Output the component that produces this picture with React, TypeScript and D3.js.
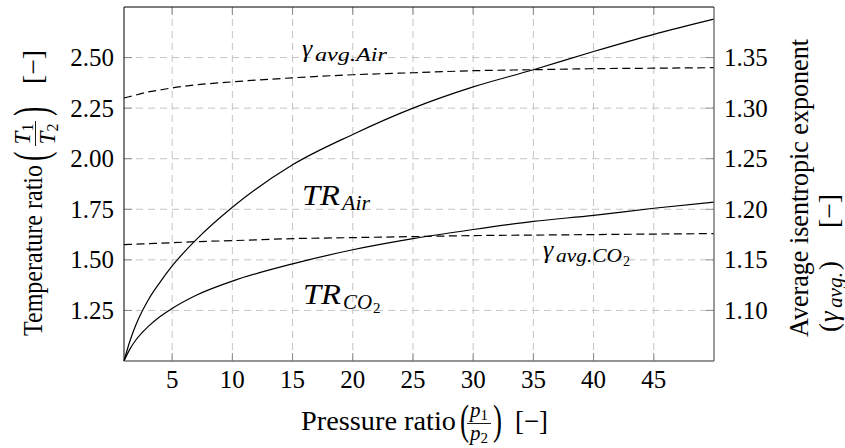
import React from "react";
import * as d3 from "d3";

// ---- data ----
const pressureRatio = [1, 1.5, 2, 3, 4, 5, 7, 10, 15, 20, 25, 30, 35, 40, 45, 50];
const trAir = [1.0, 1.1, 1.18, 1.3, 1.39, 1.47, 1.6, 1.76, 1.97, 2.12, 2.25, 2.355, 2.44, 2.53, 2.615, 2.69];
const trCO2 = [1.0, 1.06, 1.105, 1.17, 1.22, 1.26, 1.325, 1.395, 1.48, 1.55, 1.605, 1.65, 1.69, 1.72, 1.755, 1.785];
const gammaAir = [1.31, 1.3115, 1.313, 1.316, 1.318, 1.32, 1.323, 1.326, 1.33, 1.333, 1.335, 1.337, 1.338, 1.339, 1.3395, 1.34];
const gammaCO2 = [1.165, 1.1653, 1.1656, 1.166, 1.1665, 1.167, 1.168, 1.169, 1.171, 1.172, 1.173, 1.174, 1.1745, 1.175, 1.1755, 1.176];

const xTicks = [5, 10, 15, 20, 25, 30, 35, 40, 45];
const yLeftTicks = [1.25, 1.5, 1.75, 2.0, 2.25, 2.5];
const yRightTicks = [1.1, 1.15, 1.2, 1.25, 1.3, 1.35];

const xDomain = [1, 50];
const yLeftDomain = [1, 2.75];
const yRightDomain = [1.05, 1.4];

const W = 845;
const H = 448;
const L = 124, R = 714, T = 7, B = 361;
const FONT = '"Liberation Serif"';

export default function App() {
  const x = d3.scaleLinear().domain(xDomain).range([L, R]);
  const yL = d3.scaleLinear().domain(yLeftDomain).range([B, T]);
  const yR = d3.scaleLinear().domain(yRightDomain).range([B, T]);
  const fmt = d3.format(".2f");

  const lineL = (vals: number[]) =>
    d3
      .line<number>()
      .x((_, i) => x(pressureRatio[i]))
      .y((d) => yL(d))
      .curve(d3.curveMonotoneX)(vals) || "";
  const lineR = (vals: number[]) =>
    d3
      .line<number>()
      .x((_, i) => x(pressureRatio[i]))
      .y((d) => yR(d))
      .curve(d3.curveMonotoneX)(vals) || "";

  const gridColor = "#c4c4c4";
  const tickColor = "#8a8a8a";
  const tickLen = 8;
  const fs: React.CSSProperties = { fontFamily: FONT };
  const fsi: React.CSSProperties = { fontFamily: FONT, fontStyle: "italic" };

  const paren = (ch: string, px: number, py: number, size = 27, sy = 1.6) => (
    <text transform={`translate(${px},${py}) scale(1,${sy})`} fontSize={size} style={fs}>
      {ch}
    </text>
  );

  return (
    <div style={{ position: "absolute", left: 0, top: 0 }}>
      <svg width={W} height={H} viewBox={`0 0 ${W} ${H}`} style={{ display: "block", background: "#fff", fontFamily: FONT }}>
        {/* grid */}
        <g stroke={gridColor} strokeWidth={1} strokeDasharray="7,5" fill="none">
          {xTicks.map((t) => (
            <line key={"gx" + t} x1={x(t)} x2={x(t)} y1={T} y2={B} />
          ))}
          {yLeftTicks.map((t) => (
            <line key={"gy" + t} x1={L} x2={R} y1={yL(t)} y2={yL(t)} />
          ))}
        </g>
        {/* ticks */}
        <g stroke={tickColor} strokeWidth={1}>
          {xTicks.map((t) => (
            <g key={"tx" + t}>
              <line x1={x(t)} x2={x(t)} y1={B} y2={B - tickLen} />
              <line x1={x(t)} x2={x(t)} y1={T} y2={T + tickLen} />
            </g>
          ))}
          {yLeftTicks.map((t) => (
            <line key={"tl" + t} x1={L} x2={L + tickLen} y1={yL(t)} y2={yL(t)} />
          ))}
          {yRightTicks.map((t) => (
            <line key={"tr" + t} x1={R} x2={R - tickLen} y1={yR(t)} y2={yR(t)} />
          ))}
        </g>
        {/* curves */}
        <g fill="none" stroke="#000" strokeWidth={1.2}>
          <path d={lineL(trAir)} />
          <path d={lineL(trCO2)} />
          <path d={lineR(gammaAir)} strokeDasharray="8,4.5" />
          <path d={lineR(gammaCO2)} strokeDasharray="8,4.5" />
        </g>
        {/* frame */}
        <line x1={L} x2={R} y1={B} y2={B} stroke="#707070" strokeWidth={1.4} />
        <line x1={R} x2={R} y1={T} y2={B} stroke="#707070" strokeWidth={1.4} />
        <line x1={L} x2={R} y1={T} y2={T} stroke="#000" strokeWidth={1} />
        <line x1={L} x2={L} y1={T} y2={B} stroke="#000" strokeWidth={1} />

        {/* tick labels */}
        <g fontSize={25} fill="#000">
          {xTicks.map((t) => (
            <text key={"lx" + t} x={x(t)} y={388} textAnchor="middle" style={fs}>
              {t}
            </text>
          ))}
          {yLeftTicks.map((t) => (
            <text key={"ll" + t} x={114} y={yL(t) + 8.5} textAnchor="end" style={fs}>
              {fmt(t)}
            </text>
          ))}
          {yRightTicks.map((t) => (
            <text key={"lr" + t} x={724} y={yR(t) + 8.5} textAnchor="start" style={fs}>
              {fmt(t)}
            </text>
          ))}
        </g>

        {/* curve labels */}
        <g fill="#000">
          <text x={302} y={57} fontSize={26} style={fsi}>γ</text>
          <text x={315} y={61} fontSize={19} textLength={72} lengthAdjust="spacingAndGlyphs" style={fsi}>avg.Air</text>

          <text x={543} y={258} fontSize={26} style={fsi}>γ</text>
          <text x={556} y={262} fontSize={19} textLength={66} lengthAdjust="spacingAndGlyphs" style={fsi}>avg.CO</text>
          <text x={623} y={266} fontSize={14} style={fs}>2</text>

          <text x={302} y={205} fontSize={30} textLength={38} lengthAdjust="spacingAndGlyphs" style={fsi}>TR</text>
          <text x={342} y={210} fontSize={21} textLength={28} lengthAdjust="spacingAndGlyphs" style={fsi}>Air</text>

          <text x={303} y={304} fontSize={30} textLength={38} lengthAdjust="spacingAndGlyphs" style={fsi}>TR</text>
          <text x={343} y={309} fontSize={21} textLength={29} lengthAdjust="spacingAndGlyphs" style={fsi}>CO</text>
          <text x={373} y={313} fontSize={15} style={fs}>2</text>
        </g>

        {/* x axis title */}
        <g fill="#000">
          <text x={301} y={430} fontSize={27} textLength={155} lengthAdjust="spacingAndGlyphs" style={fs}>Pressure ratio</text>
          {paren("(", 460, 434)}
          <text x={479} y={417} fontSize={21} textAnchor="middle" style={fs}>
            <tspan style={fsi}>p</tspan>
            <tspan fontSize={15} dy={3}>1</tspan>
          </text>
          <line x1={467} x2={491} y1={423.5} y2={423.5} stroke="#000" strokeWidth={0.9} />
          <text x={479} y={440} fontSize={21} textAnchor="middle" style={fs}>
            <tspan style={fsi}>p</tspan>
            <tspan fontSize={15} dy={3}>2</tspan>
          </text>
          {paren(")", 493, 434)}
          <text x={515} y={430} fontSize={27} textLength={33} lengthAdjust="spacingAndGlyphs" style={fs}>[−]</text>
        </g>

        {/* left axis title */}
        <g fill="#000" transform="translate(42,190) rotate(-90)">
          <text x={-146} y={0} fontSize={27} textLength={171} lengthAdjust="spacingAndGlyphs" style={fs}>Temperature ratio</text>
          {paren("(", 29, 5, 28, 1.7)}
          <text x={56} y={-12.5} fontSize={23} textAnchor="middle" style={fs}>
            <tspan style={fsi}>T</tspan>
            <tspan fontSize={16} dy={3}>1</tspan>
          </text>
          <line x1={44} x2={69} y1={-6.5} y2={-6.5} stroke="#000" strokeWidth={0.9} />
          <text x={56} y={13} fontSize={23} textAnchor="middle" style={fs}>
            <tspan style={fsi}>T</tspan>
            <tspan fontSize={16} dy={3}>2</tspan>
          </text>
          {paren(")", 74, 5, 28, 1.7)}
          <text x={106} y={0} fontSize={27} textLength={34} lengthAdjust="spacingAndGlyphs" style={fs}>[−]</text>
        </g>

        {/* right axis title */}
        <g fill="#000" transform="translate(808,188) rotate(-90)">
          <text x={-149} y={0} fontSize={27} textLength={298} lengthAdjust="spacingAndGlyphs" style={fs}>
            Average isentropic exponent
          </text>
        </g>
        <g fill="#000" transform="translate(838,188) rotate(-90)">
          <text x={-144} y={0} fontSize={27} style={fs}>(</text>
          <text x={-134} y={0} fontSize={27} style={fsi}>γ</text>
          <text x={-120} y={4} fontSize={20} textLength={36} lengthAdjust="spacingAndGlyphs" style={fsi}>avg.</text>
          <text x={-82} y={0} fontSize={27} style={fs}>)</text>
          <text x={-40} y={0} fontSize={27} textLength={34} lengthAdjust="spacingAndGlyphs" style={fs}>[−]</text>
        </g>
      </svg>
    </div>
  );
}
